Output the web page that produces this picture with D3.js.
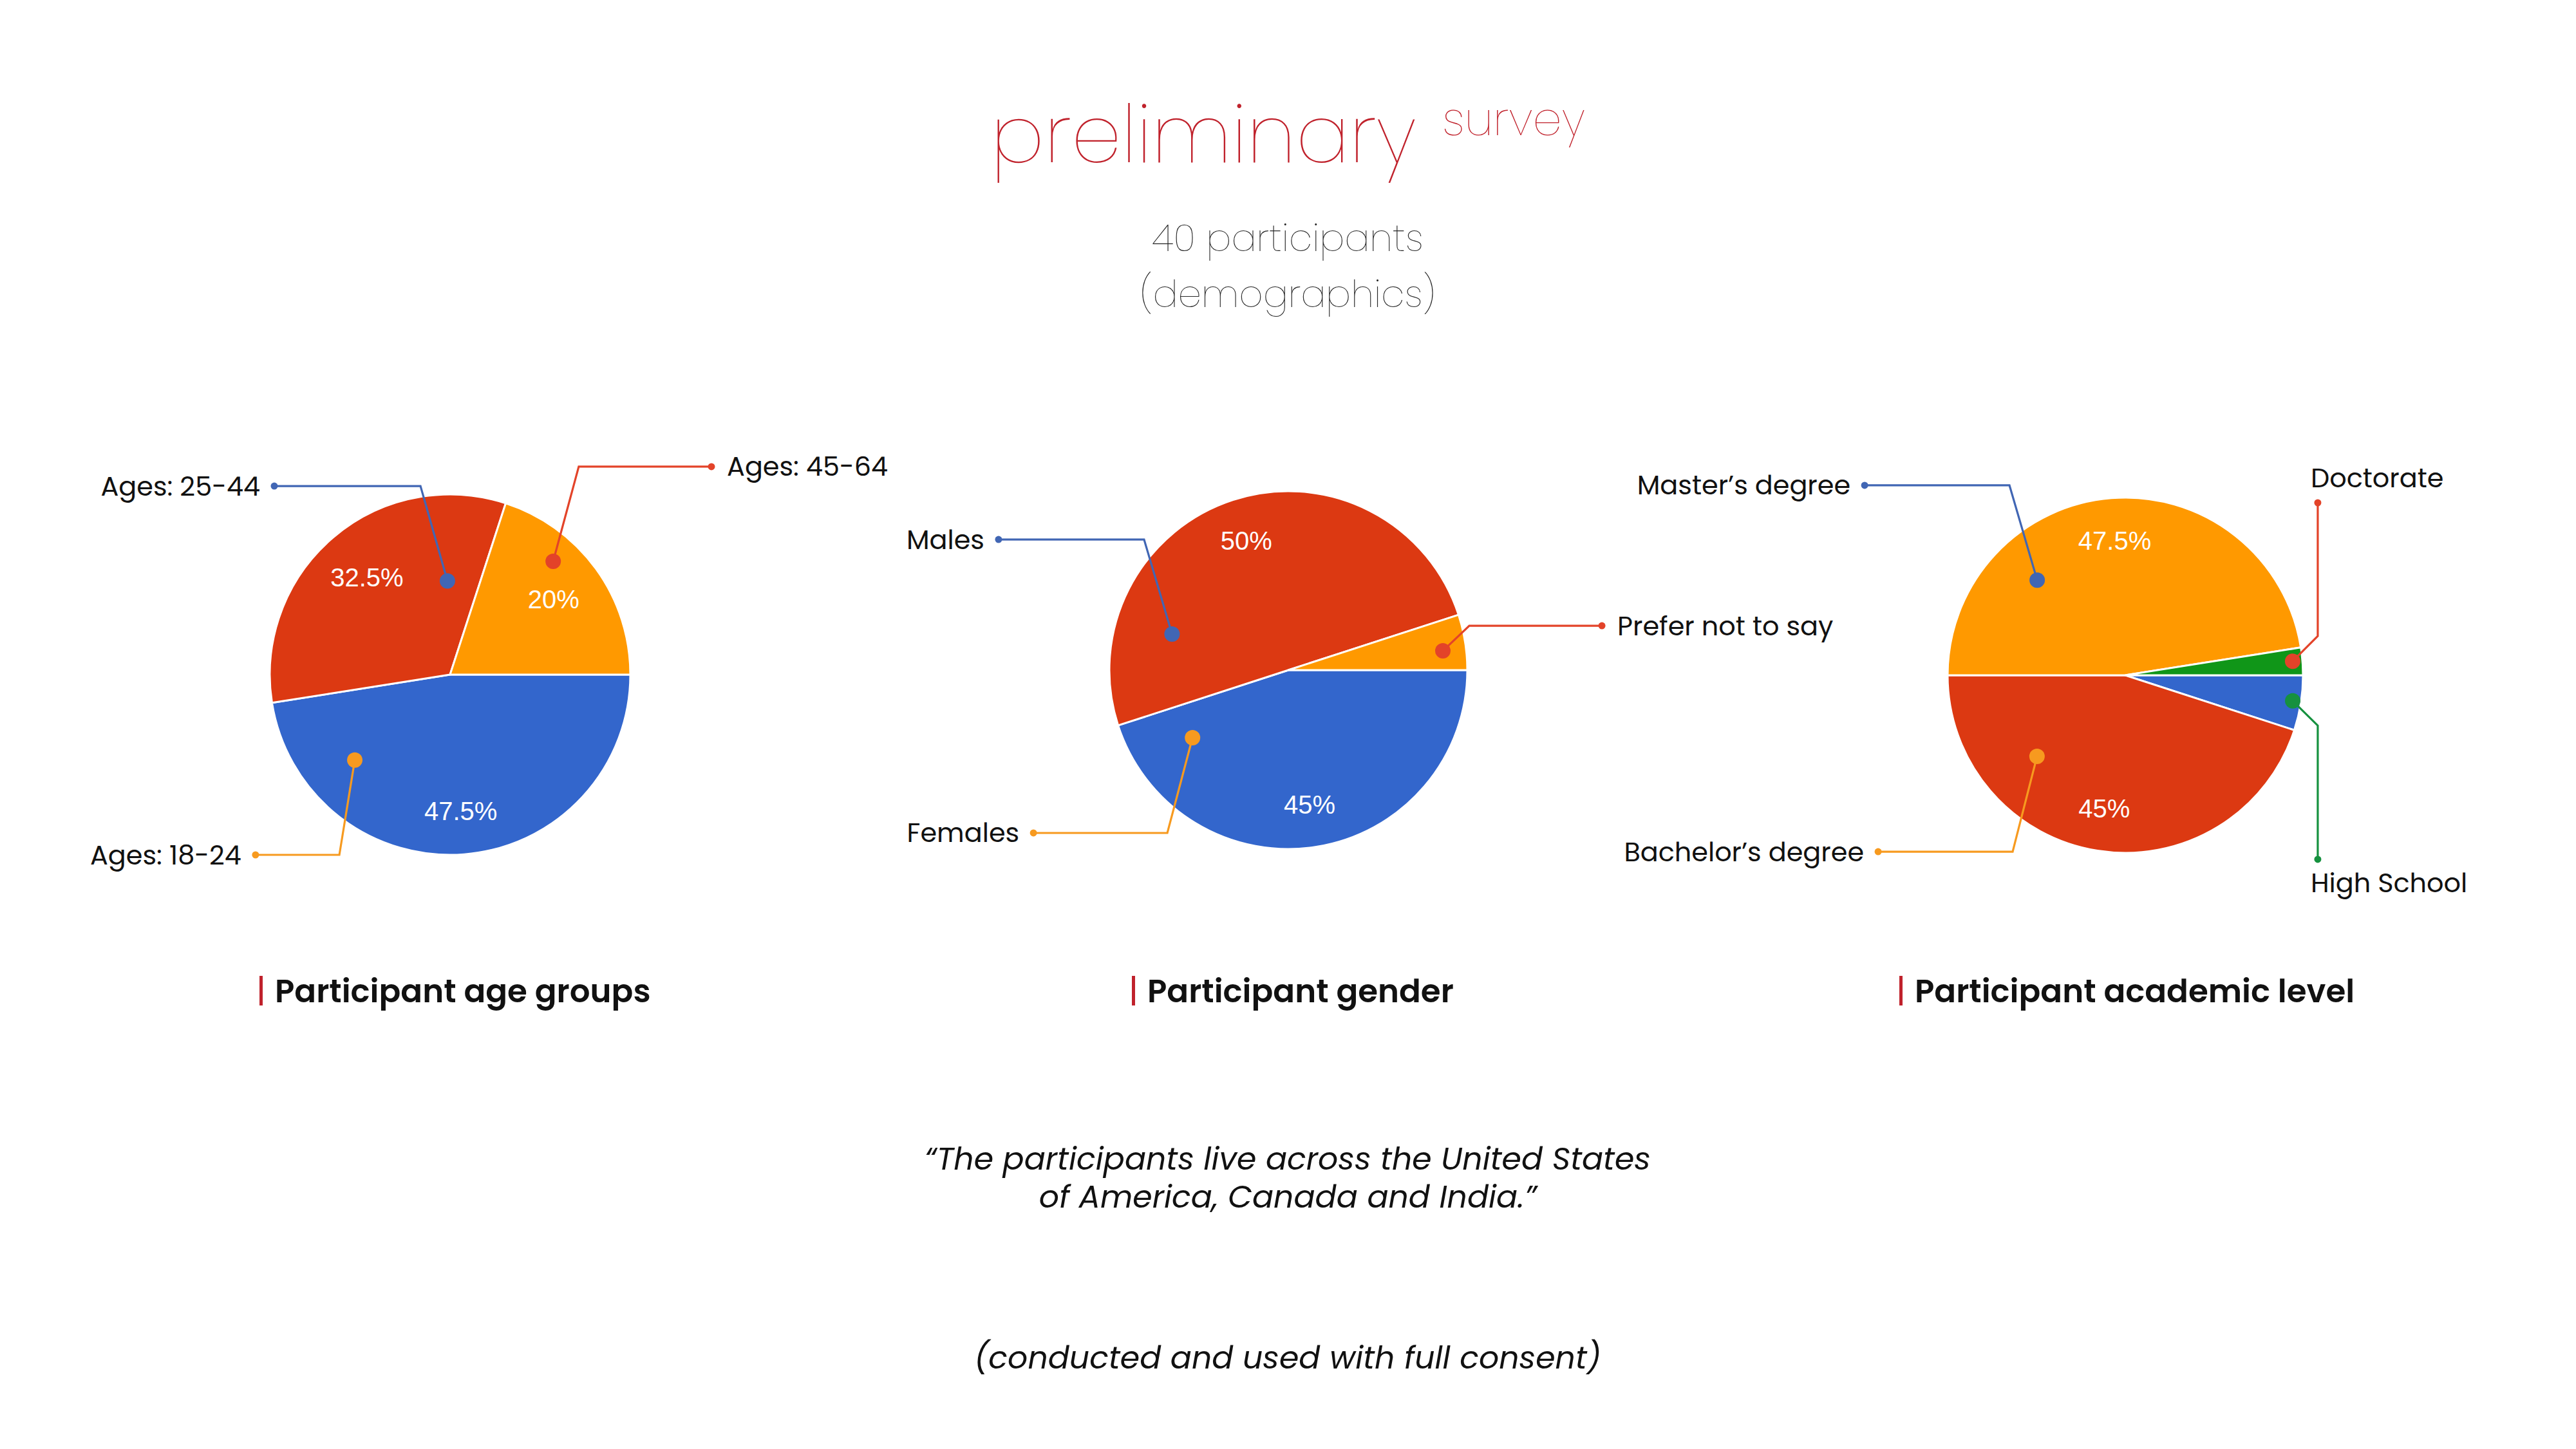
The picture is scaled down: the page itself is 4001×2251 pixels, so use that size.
<!DOCTYPE html>
<html><head><meta charset="utf-8">
<script src="https://cdn.jsdelivr.net/npm/d3@7"></script>
<style>html,body{margin:0;padding:0;background:#fff;} svg{display:block;}</style>
</head><body>
<script>
// ---------- DATA ----------
const ageCategories = ["Ages: 18-24", "Ages: 25-44", "Ages: 45-64"];
const ageValues = [47.5, 32.5, 20];
const genderCategories = ["Females", "Males", "Prefer not to say"];
const genderValues = [45, 50, 5];
const academicCategories = ["High School", "Bachelor’s degree", "Master’s degree", "Doctorate"];
const academicValues = [5, 45, 47.5, 2.5];
const chartTitles = ["Participant age groups", "Participant gender", "Participant academic level"];
const mainTitle = "preliminary";
const mainTitleSup = "survey";
const subLines = ["40 participants", "(demographics)"];
const quoteLines = ["“The participants live across the United States", "of America, Canada and India.”"];
const footnote = "(conducted and used with full consent)";

// ---------- STYLE / LAYOUT ----------
const W = 4001, H = 2251;
const palette = ["#3366cc", "#dc3912", "#ff9900", "#109618"];
const cBlue = "#4166b4", cRed = "#e34329", cOrange = "#f79a1f", cGreen = "#16913f";
const titleRed = "#c0222c";
const labelFont = "'Poppins','Inter','Open Sans',sans-serif";
const thinFont = "'Poppins','Lato','Roboto',sans-serif";

const layouts = [
  {cx: 699, cy: 1048, r: 280, barX: 403},
  {cx: 2001, cy: 1041, r: 278, barX: 1758},
  {cx: 3301, cy: 1049, r: 276, barX: 2950}
];
// callout specs: dot = [angleDeg, radiusFrac]; elbow/end in units of r relative to centre
const callouts = [
  [
    {dot: [228.1, 0.71], elbow: [-0.614, 1.0], end: [-1.079, 1.0], pos: "left", color: cOrange},
    {dot: [358.4, 0.52], elbow: [-0.164, -1.046], end: [-0.975, -1.046], pos: "left", color: cBlue},
    {dot: [42.3, 0.85], elbow: [0.714, -1.154], end: [1.45, -1.154], pos: "right", color: cRed}
  ],
  [
    {dot: [234.8, 0.655], elbow: [-0.676, 0.910], end: [-1.424, 0.910], pos: "left", color: cOrange},
    {dot: [287.2, 0.68], elbow: [-0.806, -0.730], end: [-1.619, -0.730], pos: "left", color: cBlue},
    {dot: [82.9, 0.87], elbow: [1.011, -0.248], end: [1.752, -0.248], pos: "right", color: cRed}
  ],
  [
    {dot: [98.7, 0.953], elbow: [1.083, 0.283], end: [1.083, 1.036], pos: "below", color: cGreen},
    {dot: [227.4, 0.675], elbow: [-0.634, 0.993], end: [-1.391, 0.993], pos: "left", color: cOrange},
    {dot: [317.2, 0.73], elbow: [-0.652, -1.069], end: [-1.467, -1.069], pos: "left", color: cBlue},
    {dot: [85.2, 0.945], elbow: [1.083, -0.221], end: [1.083, -0.971], pos: "above", color: cRed}
  ]
];

const svg = d3.select("body").append("svg").attr("width", W).attr("height", H);
svg.append("rect").attr("width", W).attr("height", H).attr("fill", "#fff");

function fitGroup(sel, nominal, targetTotal) {
  let total = 0;
  sel.each(function() { total += this.getComputedTextLength(); });
  const fs = nominal * targetTotal / total;
  sel.style("font-size", fs + "px");
  return fs;
}

// ---------- TITLE ----------
const t1 = svg.append("text").attr("x", 1539).attr("y", 252)
  .style("font-family", thinFont).style("font-weight", 100).style("font-size", "140px")
  .attr("fill", titleRed).text(mainTitle);
fitGroup(t1, 140, 661);
const t2 = svg.append("text").attr("x", 2240).attr("y", 210)
  .style("font-family", thinFont).style("font-weight", 200).style("font-size", "70px")
  .attr("fill", titleRed).text(mainTitleSup);
fitGroup(t2, 70, 222);

const subSel = svg.selectAll("text.sub").data(subLines).join("text").attr("class", "sub")
  .attr("x", 2000).attr("y", (d, i) => [390, 477][i]).attr("text-anchor", "middle")
  .style("font-family", thinFont).style("font-weight", 200).style("font-size", "64px")
  .attr("fill", "#262626").text(d => d);
fitGroup(subSel, 64, 421 + 459);

// ---------- PIES ----------
const datasets = [
  {cats: ageCategories, vals: ageValues},
  {cats: genderCategories, vals: genderValues},
  {cats: academicCategories, vals: academicValues}
];
const pie = d3.pie().sort(null).value(d => d.v)
  .startAngle(Math.PI / 2).endAngle(Math.PI / 2 + 2 * Math.PI);

const allLabels = [];
datasets.forEach((ds, k) => {
  const L = layouts[k];
  const data = ds.cats.map((c, i) => ({c, v: ds.vals[i], i}));
  const arcs = pie(data);
  const arc = d3.arc().innerRadius(0).outerRadius(L.r);
  const g = svg.append("g").attr("transform", `translate(${L.cx},${L.cy})`);
  g.selectAll("path.slice").data(arcs).join("path").attr("class", "slice")
    .attr("d", arc).attr("fill", d => palette[d.data.i])
    .attr("stroke", "#fff").attr("stroke-width", 3).attr("stroke-linejoin", "round");
  g.selectAll("text.pct").data(arcs.filter(d => d.data.v >= 10)).join("text").attr("class", "pct")
    .attr("transform", d => {
      const p = d3.pointRadial((d.startAngle + d.endAngle) / 2, L.r * (d.data.v < 40 ? 0.71 : 0.76));
      return `translate(${p[0]},${p[1]})`;
    })
    .attr("text-anchor", "middle").attr("dominant-baseline", "central")
    .style("font-family", "'Liberation Sans',Arial,sans-serif").style("font-size", "40px")
    .attr("fill", "#fff").text(d => d.data.v + "%");
  const line = d3.line();
  arcs.forEach(a => {
    const s = callouts[k][a.data.i];
    const p0 = d3.pointRadial(s.dot[0] * Math.PI / 180, s.dot[1] * L.r);
    const p1 = [s.elbow[0] * L.r, s.elbow[1] * L.r];
    const p2 = [s.end[0] * L.r, s.end[1] * L.r];
    g.append("path").attr("d", line([p0, p1, p2])).attr("fill", "none")
      .attr("stroke", s.color).attr("stroke-width", 3.2).attr("stroke-linejoin", "miter");
    g.append("circle").attr("cx", p0[0]).attr("cy", p0[1]).attr("r", 12).attr("fill", s.color);
    g.append("circle").attr("cx", p2[0]).attr("cy", p2[1]).attr("r", 5.5).attr("fill", s.color);
    let x = p2[0], y = p2[1], anchor = "start";
    if (s.pos === "left") { x -= 22; anchor = "end"; }
    else if (s.pos === "right") { x += 24; }
    else if (s.pos === "above") { x -= 11; y -= 39; }
    else { x -= 11; y += 37; }
    const t = g.append("text").attr("x", x).attr("y", y).attr("text-anchor", anchor)
      .attr("dominant-baseline", "central")
      .style("font-family", labelFont).style("font-size", "40px").attr("fill", "#111")
      .text(a.data.c);
    allLabels.push(t.node());
  });

  // chart subtitle with red bar
  svg.append("rect").attr("x", L.barX).attr("y", 1516).attr("width", 5).attr("height", 46).attr("fill", titleRed);
  svg.append("text").attr("class", "ctitle").attr("x", L.barX + 24).attr("y", 1539)
    .attr("dominant-baseline", "central")
    .style("font-family", labelFont).style("font-weight", 600).style("font-size", "50px")
    .attr("fill", "#111").text(chartTitles[k]);
});

// uniform label font size
const labelTargets = {"Ages: 25-44": 248, "Ages: 45-64": 250, "Ages: 18-24": 235, "Males": 120, "Females": 174,
  "Prefer not to say": 337, "Master’s degree": 332, "Bachelor’s degree": 373, "High School": 242, "Doctorate": 207};
let tgt = 0, meas = 0;
allLabels.forEach(n => { tgt += labelTargets[n.textContent] || 0; meas += n.getComputedTextLength(); });
d3.selectAll(allLabels).style("font-size", (40 * tgt / meas) + "px");

fitGroup(svg.selectAll("text.ctitle"), 50, 584 + 477 + 682);

// ---------- QUOTE ----------
const qt = svg.append("text").attr("text-anchor", "middle")
  .style("font-family", labelFont).style("font-style", "italic").style("font-size", "50px")
  .attr("fill", "#111");
qt.selectAll("tspan").data(quoteLines).join("tspan")
  .attr("x", 2000).attr("y", (d, i) => [1817, 1876][i]).text(d => d);
const firstLen = qt.select("tspan").node().getComputedTextLength();
const qfs = 50 * 1128 / firstLen;
qt.style("font-size", qfs + "px");
svg.append("text").attr("x", 2000).attr("y", 2126).attr("text-anchor", "middle")
  .style("font-family", labelFont).style("font-style", "italic").style("font-size", qfs + "px")
  .attr("fill", "#111").text(footnote);
</script>
</body></html>
